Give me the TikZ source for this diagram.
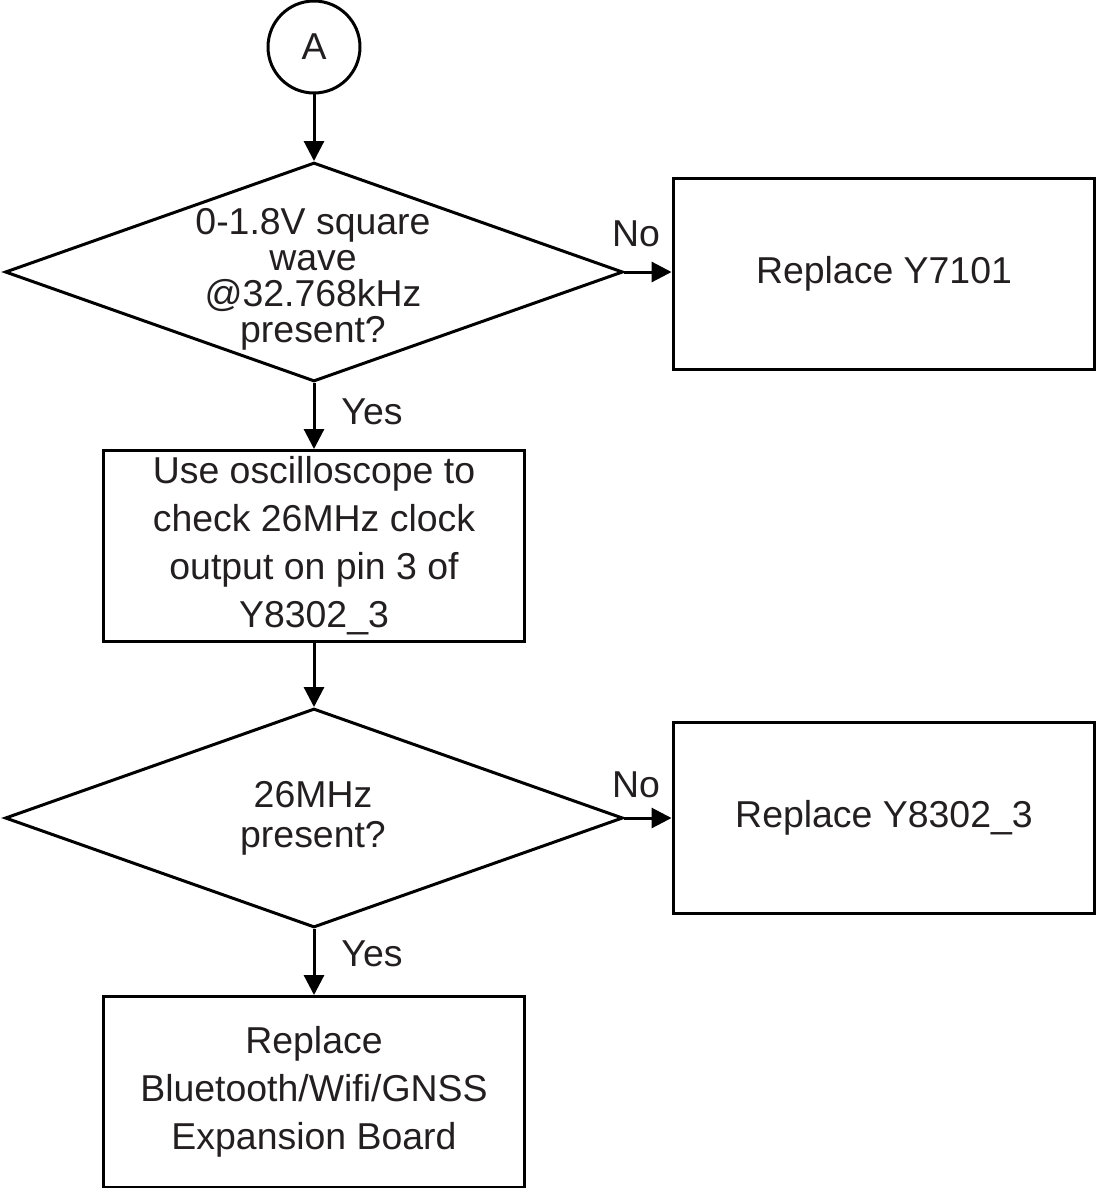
\documentclass[tikz,border=0pt]{standalone}
\usepackage{fontspec}
\setmainfont{Liberation Sans}
\usetikzlibrary{shapes.geometric,arrows.meta}
\definecolor{ink}{RGB}{35,31,32}

\begin{document}
\begin{tikzpicture}[
    x=0.02cm, y=-0.02cm,
    every node/.style={text=ink, font=\fontsize{21.3}{27.3}\selectfont},
    connector/.style={circle, draw, line width=0.06cm, minimum size=1.84cm, inner sep=0pt},
    decision/.style={diamond, draw, line width=0.06cm, minimum width=12.36cm, minimum height=4.38cm, inner sep=0pt},
    process/.style={rectangle, draw, line width=0.06cm, minimum width=8.44cm, minimum height=3.82cm, align=center, inner sep=0pt},
    qtext/.style={align=center, inner sep=0pt},
    flow/.style={line width=0.06cm, -{Triangle[length=0.4cm,width=0.4cm]}}
]
\useasboundingbox (0,0) rectangle (1097,1188);

\node[connector] (a) at (314,47) {A};
\node[decision] (q1) at (314,272) {};
\node[qtext, font=\fontsize{21.3}{20.5}\selectfont] (q1txt) at (313,279) {0-1.8V square\\wave\\@32.768kHz\\present?};
\node[process] (fix1) at (884,274) {Replace Y7101};
\node[process] (check) at (314,546) {Use oscilloscope to\\check 26MHz clock\\output on pin 3 of\\Y8302\_3};
\node[decision] (q2) at (314,818) {};
\node[qtext, font=\fontsize{21.3}{22.8}\selectfont] (q2txt) at (313,818) {26MHz\\present?};
\node[process] (fix2) at (884,818) {Replace Y8302\_3};
\node[process] (fix3) at (314,1092) {Replace\\Bluetooth/Wifi/GNSS\\Expansion Board};

\node (no1) at (636,234) {No};
\node (yes1) at (372,412) {Yes};
\node (no2) at (636,785) {No};
\node (yes2) at (372,954) {Yes};

\draw[flow] (a) -- (q1);
\draw[flow] (q1.east) -- (q1.east -| fix1.west);
\draw[flow] (q1) -- (check);
\draw[flow] (check) -- (q2);
\draw[flow] (q2.east) -- (q2.east -| fix2.west);
\draw[flow] (q2) -- (fix3);

\end{tikzpicture}
\end{document}
